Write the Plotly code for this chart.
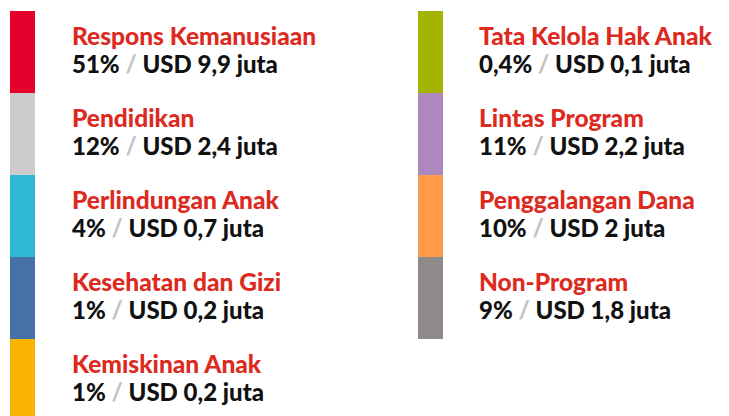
import plotly.graph_objects as go

left_names = ["Respons Kemanusiaan", "Pendidikan", "Perlindungan Anak", "Kesehatan dan Gizi", "Kemiskinan Anak"]
left_pct = ["51%", "12%", "4%", "1%", "1%"]
left_usd = ["USD 9,9 juta", "USD 2,4 juta", "USD 0,7 juta", "USD 0,2 juta", "USD 0,2 juta"]
left_colors = ["#E4002B", "#CCCCCC", "#2DB9D6", "#4472A8", "#F8B400"]

right_names = ["Tata Kelola Hak Anak", "Lintas Program", "Penggalangan Dana", "Non-Program"]
right_pct = ["0,4%", "11%", "10%", "9%"]
right_usd = ["USD 0,1 juta", "USD 2,2 juta", "USD 2 juta", "USD 1,8 juta"]
right_colors = ["#A4B200", "#AC88BE", "#FF9A48", "#8E8A89"]

TOP = 11
STEP = 82
FONT = "Lato"
RED = "#DD2A1F"
OFF = 8  # page body margin

fig = go.Figure()
annotations = []

def add_column(names, pct, usd, colors, bar_x, text_x):
    n = len(names)
    fig.add_trace(go.Bar(
        x=[bar_x] * n,
        y=[STEP] * n,
        base=[TOP + STEP * i for i in range(n)],
        width=25,
        marker=dict(color=colors, line=dict(width=0)),
        hoverinfo="skip",
        showlegend=False,
    ))
    for i in range(n):
        y0 = TOP + STEP * i
        annotations.append(dict(
            x=text_x, y=y0 + 24.5, xref="x", yref="y", xanchor="left", yanchor="middle",
            text=names[i], showarrow=False,
            font=dict(family=FONT, size=24.5, color=RED, weight=900),
        ))
        annotations.append(dict(
            x=text_x, y=y0 + 52, xref="x", yref="y", xanchor="left", yanchor="middle",
            text=pct[i] + " <span style='color:#C4C4C4'>/</span> " + usd[i],
            showarrow=False,
            font=dict(family=FONT, size=24, color="#111111", weight=900),
        ))

add_column(left_names, left_pct, left_usd, left_colors, 22.5, 70)
add_column(right_names, right_pct, right_usd, right_colors, 430.5, 477)

fig.update_layout(
    width=729 - OFF, height=416 - OFF,
    margin=dict(l=0, r=0, t=0, b=0),
    paper_bgcolor="white", plot_bgcolor="white",
    barmode="overlay",
    xaxis=dict(range=[OFF, 729], visible=False, fixedrange=True),
    yaxis=dict(range=[416, OFF], visible=False, fixedrange=True),
    annotations=annotations,
)

fig.write_html("out.html")
